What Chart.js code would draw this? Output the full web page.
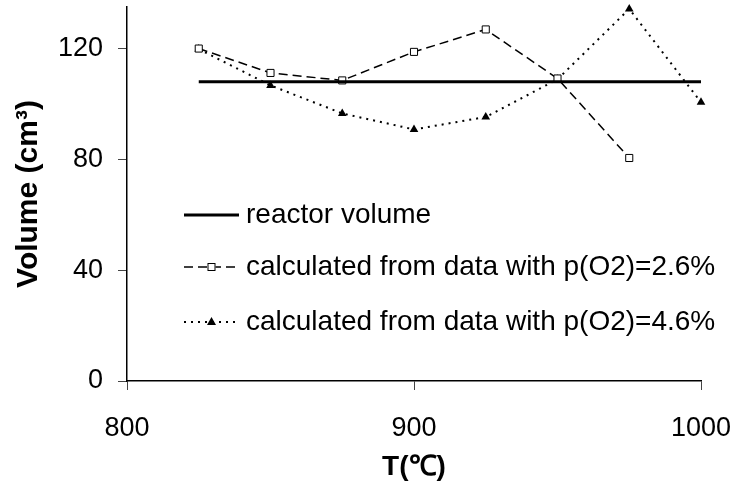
<!DOCTYPE html>
<html>
<head>
<meta charset="utf-8">
<title>Reactor volume vs temperature</title>
<script src="https://cdn.jsdelivr.net/npm/chart.js@4.4.1/dist/chart.umd.min.js"></script>
<style>
    html, body { margin: 0; padding: 0; background: #fff; }
    .chart-box { width: 735px; height: 486px; position: relative; }
</style>
</head>
<body>
<div class="chart-box"><canvas id="volumeChart"></canvas></div>
<script>
// --- Data ---
const temps = [825, 850, 875, 900, 925, 950, 975, 1000];
const reactorVolume = [108, 108, 108, 108, 108, 108, 108, 108];
const volumeO2_26 = [120, 111.2, 108.5, 118.8, 126.9, 109.2, 80.5];   // 825..975
const volumeO2_46 = [119.8, 106.7, 96.6, 90.8, 95.3, 108.9, 134.3, 100.6];
const xTicks = [800, 900, 1000];
const yTicks = [0, 40, 80, 120];

const FONT = "'Liberation Sans', Arial, sans-serif";

function toPoints(xs, ys) {
    return ys.map((y, i) => ({ x: xs[i], y: y }));
}

// Legend drawn inside the plot area, like the original
const insideLegend = {
    id: 'insideLegend',
    afterDatasetsDraw(chart) {
        const { ctx, chartArea } = chart;
        const x0 = chartArea.left + 57;
        const x1 = x0 + 55;
        const rowY = [chartArea.top + 208, chartArea.top + 260, chartArea.top + 315];

        ctx.save();
        chart.data.datasets.forEach((ds, i) => {
            const y = rowY[i];
            ctx.strokeStyle = ds.borderColor;
            ctx.lineWidth = ds.borderWidth;
            ctx.setLineDash(ds.borderDash || []);
            ctx.beginPath();
            ctx.moveTo(x0, y);
            ctx.lineTo(x1, y);
            ctx.stroke();
            ctx.setLineDash([]);

            const cx = (x0 + x1) / 2;
            if (ds.pointStyle === 'rect' && ds.pointRadius > 0) {
                ctx.fillStyle = '#fff';
                ctx.fillRect(cx - 4, y - 4, 8, 8);
                ctx.lineWidth = 1;
                ctx.strokeRect(cx - 3.5, y - 3.5, 7, 7);
            } else if (ds.pointStyle === 'triangle' && ds.pointRadius > 0) {
                ctx.fillStyle = '#000';
                ctx.beginPath();
                ctx.moveTo(cx, y - 5);
                ctx.lineTo(cx + 4.5, y + 3);
                ctx.lineTo(cx - 4.5, y + 3);
                ctx.closePath();
                ctx.fill();
            }

            ctx.fillStyle = '#000';
            ctx.font = '28px ' + FONT;
            ctx.textAlign = 'left';
            ctx.textBaseline = 'middle';
            ctx.fillText(ds.label, x1 + 7, y);
        });
        ctx.restore();
    }
};

document.addEventListener('DOMContentLoaded', () => {
    const ctx = document.getElementById('volumeChart').getContext('2d');

    new Chart(ctx, {
        type: 'line',
        data: {
            datasets: [{
                label: 'reactor volume',
                data: toPoints(temps, reactorVolume),
                borderColor: '#000',
                borderWidth: 3,
                pointRadius: 0,
                pointStyle: 'line',
                clip: false
            }, {
                label: 'calculated from data with p(O2)=2.6%',
                data: toPoints(temps, volumeO2_26),
                borderColor: '#000',
                borderWidth: 1.5,
                borderDash: [9, 5],
                pointStyle: 'rect',
                pointRadius: 5,
                pointBorderWidth: 1,
                pointBackgroundColor: '#fff',
                pointBorderColor: '#000',
                clip: false
            }, {
                label: 'calculated from data with p(O2)=4.6%',
                data: toPoints(temps, volumeO2_46),
                borderColor: '#000',
                borderWidth: 2,
                borderDash: [2, 5],
                pointStyle: 'triangle',
                pointRadius: 5,
                pointBorderWidth: 0,
                pointBackgroundColor: '#000',
                pointBorderColor: '#000',
                clip: false
            }]
        },
        options: {
            responsive: true,
            maintainAspectRatio: false,
            animation: false,
            layout: {
                padding: { top: 7, right: 34, bottom: 0, left: 0 }
            },
            plugins: {
                legend: { display: false },
                tooltip: { enabled: false }
            },
            scales: {
                x: {
                    type: 'linear',
                    min: 800,
                    max: 1000,
                    afterFit: (scale) => {
                        scale.height = 105;
                        scale.paddingLeft = 0;
                        scale.paddingRight = 0;
                    },
                    afterBuildTicks: (scale) => { scale.ticks = xTicks.map(v => ({ value: v })); },
                    grid: {
                        drawOnChartArea: false,
                        drawTicks: true,
                        tickLength: 9,
                        color: '#444',
                        lineWidth: 1
                    },
                    border: { display: true, color: '#000', width: 1.5 },
                    ticks: {
                        color: '#000',
                        padding: 22,
                        maxRotation: 0,
                        font: { family: FONT, size: 27 },
                        callback: (value) => String(value)
                    },
                    title: {
                        display: true,
                        text: 'T(℃)',
                        color: '#000',
                        padding: { top: 0, bottom: 2 },
                        font: { family: FONT, size: 28, weight: 'bold' }
                    }
                },
                y: {
                    type: 'linear',
                    min: 0,
                    max: 135,
                    afterFit: (scale) => {
                        scale.width = 127;
                        scale.paddingTop = 0;
                        scale.paddingBottom = 0;
                    },
                    afterBuildTicks: (scale) => { scale.ticks = yTicks.map(v => ({ value: v })); },
                    grid: {
                        drawOnChartArea: false,
                        drawTicks: true,
                        tickLength: 9,
                        color: '#444',
                        lineWidth: 1
                    },
                    border: { display: true, color: '#000', width: 1.5 },
                    ticks: {
                        color: '#000',
                        padding: 15,
                        font: { family: FONT, size: 27 },
                        callback: (value) => String(value)
                    },
                    title: {
                        display: true,
                        text: 'Volume (cm³)',
                        color: '#000',
                        padding: { top: 11, bottom: 0 },
                        font: { family: FONT, size: 30, weight: 'bold' }
                    }
                }
            }
        },
        plugins: [insideLegend]
    });
});
</script>
</body>
</html>
